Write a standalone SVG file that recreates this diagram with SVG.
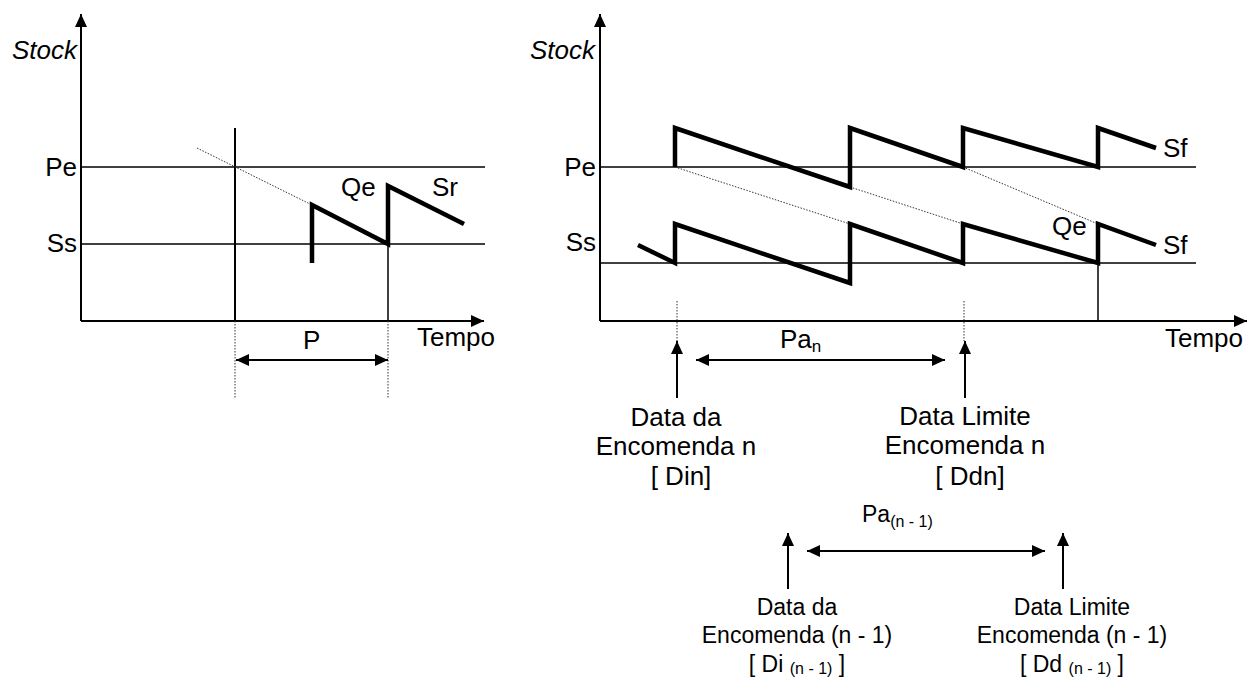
<svg xmlns="http://www.w3.org/2000/svg" width="1247" height="678" viewBox="0 0 1247 678">
  <style>
    text { font-family: "Liberation Sans", Arial, sans-serif; fill: #000; }
    .lbl { font-size: 26px; }
    .sm { font-size: 23px; }
    .it { font-style: italic; }
    .axis { stroke: #000; stroke-width: 2; fill: none; }
    .level { stroke: #000; stroke-width: 1.5; fill: none; }
    .thin { stroke: #000; stroke-width: 1.5; fill: none; }
    .saw { stroke: #000; stroke-width: 4.5; fill: none; stroke-linejoin: miter; stroke-miterlimit: 10; }
    .dot { stroke: #333; stroke-width: 1; fill: none; stroke-dasharray: 1.5 1.5; }
    .arr { stroke: #000; stroke-width: 2; fill: none; }
  </style>
  <defs>
    <marker id="head" viewBox="0 0 13 12" refX="13" refY="6" markerWidth="13" markerHeight="12" markerUnits="userSpaceOnUse" orient="auto-start-reverse">
      <path d="M0,0 L13,6 L0,12 z" fill="#000"/>
    </marker>
  </defs>

  <!-- Left chart: reorder point with fixed period -->
  <g id="left-chart">
    <line class="axis" x1="81" y1="321" x2="81" y2="14" marker-end="url(#head)"/>
    <line class="axis" x1="81" y1="321" x2="484" y2="321" marker-end="url(#head)"/>
    <line class="level" x1="81" y1="167" x2="485" y2="167"/>
    <line class="level" x1="81" y1="244" x2="485" y2="244"/>
    <line class="axis" x1="235" y1="128" x2="235" y2="321"/>
    <line class="thin" x1="388" y1="244" x2="388" y2="321"/>
    <line class="dot" x1="235" y1="321" x2="235" y2="398"/>
    <line class="dot" x1="388" y1="321" x2="388" y2="398"/>
    <line class="dot" x1="197" y1="148" x2="312" y2="205"/>
    <polyline class="saw" points="312,263 312,205 388,244 388,186 464,224"/>
    <text class="lbl it" x="77" y="59" text-anchor="end">Stock</text>
    <text class="lbl" x="77" y="176" text-anchor="end">Pe</text>
    <text class="lbl" x="77" y="252" text-anchor="end">Ss</text>
    <text class="lbl" x="341" y="196">Qe</text>
    <text class="lbl" x="432" y="196">Sr</text>
    <text class="lbl" x="303" y="349">P</text>
    <text class="lbl" x="417" y="346">Tempo</text>
  </g>

  <!-- Right chart: two stock levels with order dates -->
  <g id="right-chart">
    <line class="axis" x1="600" y1="321" x2="600" y2="14" marker-end="url(#head)"/>
    <line class="axis" x1="600" y1="321" x2="1247" y2="321" marker-end="url(#head)"/>
    <line class="level" x1="600" y1="167" x2="1196" y2="167"/>
    <line class="level" x1="600" y1="263" x2="1196" y2="263"/>
    <line class="thin" x1="1098" y1="263" x2="1098" y2="321"/>
    <line class="dot" x1="675" y1="167" x2="850" y2="224"/>
    <line class="dot" x1="850" y1="187" x2="963" y2="224"/>
    <line class="dot" x1="963" y1="167" x2="1098" y2="224"/>
    <line class="dot" x1="677" y1="301" x2="677" y2="341"/>
    <line class="dot" x1="964" y1="301" x2="964" y2="341"/>
    <polyline class="saw" points="675,167 675,128 850,187 850,128 963,167 963,128 1098,167 1098,128 1156,148"/>
    <polyline class="saw" points="638,245 675,263 675,224 850,283 850,224 963,263 963,224 1098,263 1098,224 1156,245"/>
    <text class="lbl it" x="595" y="59" text-anchor="end">Stock</text>
    <text class="lbl" x="596" y="176" text-anchor="end">Pe</text>
    <text class="lbl" x="596" y="251" text-anchor="end">Ss</text>
    <text class="lbl" x="1052" y="235">Qe</text>
    <text class="lbl" x="1163" y="157">Sf</text>
    <text class="lbl" x="1163" y="254">Sf</text>
    <text class="lbl" x="1165" y="347">Tempo</text>
  </g>

  <!-- Period arrows and date pointers -->
  <g id="connectors">
    <line class="arr" x1="236" y1="360" x2="388" y2="360" marker-start="url(#head)" marker-end="url(#head)"/>
    <line class="arr" x1="696" y1="360" x2="945" y2="360" marker-start="url(#head)" marker-end="url(#head)"/>
    <line class="arr" x1="677" y1="398" x2="677" y2="341" marker-end="url(#head)"/>
    <line class="arr" x1="965" y1="398" x2="965" y2="341" marker-end="url(#head)"/>
    <line class="arr" x1="807" y1="551" x2="1045" y2="551" marker-start="url(#head)" marker-end="url(#head)"/>
    <line class="arr" x1="788" y1="589" x2="788" y2="533" marker-end="url(#head)"/>
    <line class="arr" x1="1063" y1="589" x2="1063" y2="533" marker-end="url(#head)"/>
  </g>

  <g id="label-pa-n">
    <text class="lbl" x="780" y="348">Pa<tspan font-size="17" dy="4">n</tspan></text>
  </g>
  <g id="label-din">
    <text class="lbl" text-anchor="middle" x="676" y="426">Data da</text>
    <text class="lbl" text-anchor="middle" x="676" y="455">Encomenda n</text>
    <text class="lbl" text-anchor="middle" x="681" y="485">[ Din]</text>
  </g>
  <g id="label-ddn">
    <text class="lbl" text-anchor="middle" x="965" y="425">Data Limite</text>
    <text class="lbl" text-anchor="middle" x="965" y="454">Encomenda n</text>
    <text class="lbl" text-anchor="middle" x="970" y="485">[ Ddn]</text>
  </g>
  <g id="label-pa-n1">
    <text class="sm" x="862" y="522">Pa<tspan font-size="16" dy="5">(n - 1)</tspan></text>
  </g>
  <g id="label-di-n1">
    <text class="sm" text-anchor="middle" x="797" y="615">Data da</text>
    <text class="sm" text-anchor="middle" x="797" y="643">Encomenda (n - 1)</text>
    <text class="sm" text-anchor="middle" x="797" y="672">[ Di <tspan font-size="16" dy="2">(n - 1)</tspan><tspan dy="-2"> ]</tspan></text>
  </g>
  <g id="label-dd-n1">
    <text class="sm" text-anchor="middle" x="1072" y="615">Data Limite</text>
    <text class="sm" text-anchor="middle" x="1072" y="643">Encomenda (n - 1)</text>
    <text class="sm" text-anchor="middle" x="1072" y="672">[ Dd <tspan font-size="16" dy="2">(n - 1)</tspan><tspan dy="-2"> ]</tspan></text>
  </g>
</svg>
